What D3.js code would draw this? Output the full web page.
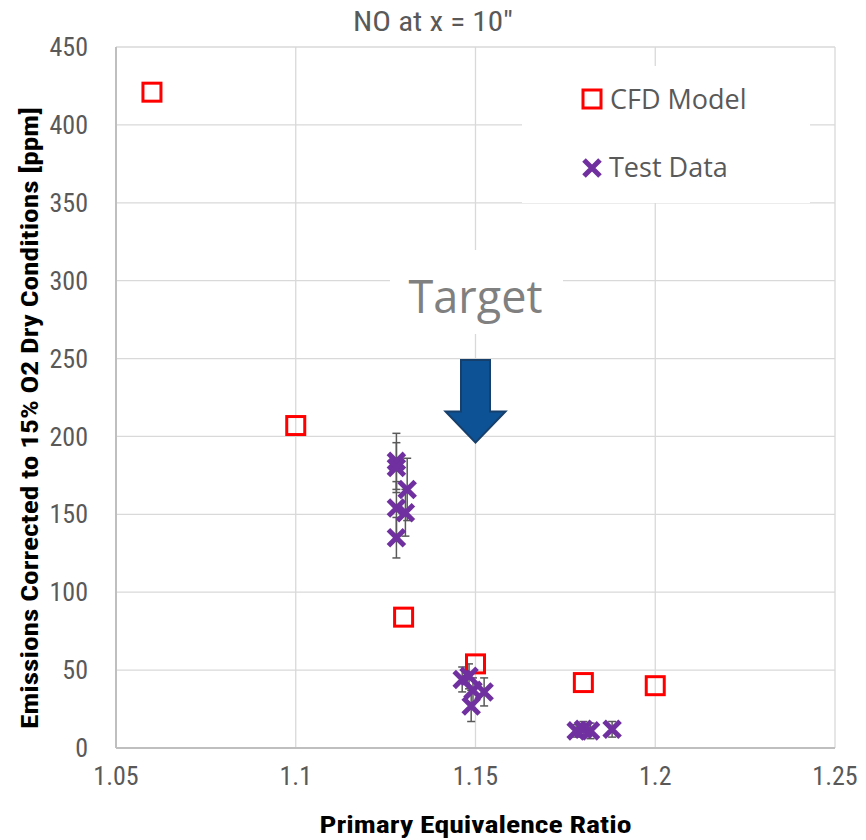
<!DOCTYPE html>
<html>
<head>
<meta charset="utf-8">
<script src="https://cdn.jsdelivr.net/npm/d3@7"></script>
<style>
  body { margin: 0; background: #fff; }
  .narrow { font-family: "Liberation Sans Narrow", "Roboto Condensed", "DejaVu Sans Condensed", sans-serif; font-stretch: condensed; }
</style>
</head>
<body>
<div id="chart"></div>
<script>
// chart data
const cfdPhi = [1.06, 1.10, 1.13, 1.15, 1.18, 1.20];
const cfdNO  = [421, 207, 84, 54, 42, 40];

const testPhi = [1.128, 1.128, 1.131, 1.128, 1.1305, 1.128,
                 1.1463, 1.1482, 1.1493, 1.1524, 1.1488,
                 1.178, 1.180, 1.182, 1.188];
const testNO  = [184, 180, 166, 154, 151, 135,
                 44, 46, 37, 36, 27,
                 11, 12, 11, 12];
const testErr = [18, 16, 20, 17, 15, 13,
                 8, 8, 8, 9, 10,
                 4, 5, 5, 5];

const xTicks = [1.05, 1.1, 1.15, 1.2, 1.25];
const xTickLabels = ["1.05", "1.1", "1.15", "1.2", "1.25"];
const yTicks = [0, 50, 100, 150, 200, 250, 300, 350, 400, 450];

// target annotation
const targetPhi = 1.15;
const arrowTop = 249, arrowHeadBase = 216, arrowTip = 196;

const width = 866, height = 840;
const margin = {top: 47, right: 31, bottom: 92, left: 116};

const svg = d3.select("#chart").append("svg")
  .attr("width", width)
  .attr("height", height);

const x = d3.scaleLinear().domain([1.05, 1.25]).range([margin.left, width - margin.right]);
const y = d3.scaleLinear().domain([0, 450]).range([height - margin.bottom, margin.top]);

// gridlines
svg.append("g")
  .selectAll("line.hg").data(yTicks.slice(1)).enter()
  .append("line")
  .attr("x1", x(1.05)).attr("x2", x(1.25))
  .attr("y1", d => y(d)).attr("y2", d => y(d))
  .attr("stroke", "#d9d9d9").attr("stroke-width", 1.3);

svg.append("g")
  .selectAll("line.vg").data(xTicks.slice(1)).enter()
  .append("line")
  .attr("x1", d => x(d)).attr("x2", d => x(d))
  .attr("y1", y(0)).attr("y2", y(450))
  .attr("stroke", "#d9d9d9").attr("stroke-width", 1.3);

// axis lines
svg.append("line")
  .attr("x1", x(1.05)).attr("x2", x(1.05))
  .attr("y1", y(0)).attr("y2", y(450))
  .attr("stroke", "#bfbfbf").attr("stroke-width", 2);
svg.append("line")
  .attr("x1", x(1.05)).attr("x2", x(1.25))
  .attr("y1", y(0)).attr("y2", y(0))
  .attr("stroke", "#bfbfbf").attr("stroke-width", 2);

// tick labels
svg.append("g").attr("class", "narrow")
  .selectAll("text").data(yTicks).enter()
  .append("text")
  .attr("x", x(1.05) - 28)
  .attr("y", d => y(d))
  .attr("dy", "0.35em")
  .attr("text-anchor", "end")
  .attr("font-size", 26)
  .attr("fill", "#595959")
  .text(d => d);

svg.append("g").attr("class", "narrow")
  .selectAll("text").data(xTicks).enter()
  .append("text")
  .attr("x", d => x(d))
  .attr("y", y(0) + 37)
  .attr("text-anchor", "middle")
  .attr("font-size", 26)
  .attr("fill", "#595959")
  .text((d, i) => xTickLabels[i]);

// title and axis titles
svg.append("text").attr("class", "narrow")
  .attr("x", width / 2).attr("y", 31)
  .attr("text-anchor", "middle")
  .attr("font-size", 28)
  .attr("fill", "#595959")
  .attr("textLength", 160)
  .attr("lengthAdjust", "spacingAndGlyphs")
  .text("NO at x = 10\"");

svg.append("text").attr("class", "narrow")
  .attr("x", x(1.15)).attr("y", 833)
  .attr("text-anchor", "middle")
  .attr("font-size", 24)
  .attr("font-weight", "bold")
  .attr("fill", "#000")
  .attr("textLength", 312)
  .attr("lengthAdjust", "spacingAndGlyphs")
  .text("Primary Equivalence Ratio");

svg.append("text").attr("class", "narrow")
  .attr("transform", "translate(38," + 418 + ") rotate(-90)")
  .attr("text-anchor", "middle")
  .attr("font-size", 24)
  .attr("font-weight", "bold")
  .attr("fill", "#000")
  .attr("textLength", 622)
  .attr("lengthAdjust", "spacingAndGlyphs")
  .text("Emissions Corrected to 15% O2 Dry Conditions [ppm]");

// legend box (covers gridlines)
svg.append("rect")
  .attr("x", 522).attr("y", 66)
  .attr("width", 288).attr("height", 137)
  .attr("fill", "#fff");

// target label box
svg.append("rect")
  .attr("x", 390).attr("y", 250)
  .attr("width", 173).attr("height", 84)
  .attr("fill", "#fff");

svg.append("text")
  .attr("x", x(targetPhi)).attr("y", 313)
  .attr("text-anchor", "middle")
  .attr("font-family", "'Open Sans', 'Noto Sans', sans-serif")
  .attr("font-size", 45)
  .attr("fill", "#808080")
  .text("Target");

// arrow
const ax = x(targetPhi);
const arrowPts = [
  [ax - 14.5, y(arrowTop)], [ax + 14.5, y(arrowTop)],
  [ax + 14.5, y(arrowHeadBase)], [ax + 30, y(arrowHeadBase)],
  [ax, y(arrowTip)],
  [ax - 30, y(arrowHeadBase)], [ax - 14.5, y(arrowHeadBase)]
];
svg.append("polygon")
  .attr("points", arrowPts.map(p => p.join(",")).join(" "))
  .attr("fill", "#0d5295")
  .attr("stroke", "#173f6c")
  .attr("stroke-width", 2)
  .attr("stroke-linejoin", "miter");

// error bars for test data
const testData = testPhi.map((p, i) => ({phi: p, no: testNO[i], err: testErr[i]}));
const eb = svg.append("g").attr("stroke", "#595959").attr("stroke-width", 1.5);
testData.forEach(d => {
  const cx = x(d.phi);
  eb.append("line").attr("x1", cx).attr("x2", cx)
    .attr("y1", y(d.no + d.err)).attr("y2", y(d.no - d.err));
  eb.append("line").attr("x1", cx - 4).attr("x2", cx + 4)
    .attr("y1", y(d.no + d.err)).attr("y2", y(d.no + d.err));
  eb.append("line").attr("x1", cx - 4).attr("x2", cx + 4)
    .attr("y1", y(d.no - d.err)).attr("y2", y(d.no - d.err));
});

// CFD model squares
const cfdData = cfdPhi.map((p, i) => ({phi: p, no: cfdNO[i]}));
svg.append("g").selectAll("rect").data(cfdData).enter()
  .append("rect")
  .attr("x", d => x(d.phi) - 9)
  .attr("y", d => y(d.no) - 9)
  .attr("width", 18).attr("height", 18)
  .attr("fill", "none")
  .attr("stroke", "#ff0000")
  .attr("stroke-width", 3);

// test data crosses
function crossPath(cx, cy, r) {
  return "M" + (cx - r) + "," + (cy - r) + "L" + (cx + r) + "," + (cy + r) +
         "M" + (cx - r) + "," + (cy + r) + "L" + (cx + r) + "," + (cy - r);
}
svg.append("g").selectAll("path").data(testData).enter()
  .append("path")
  .attr("d", d => crossPath(x(d.phi), y(d.no), 8))
  .attr("stroke", "#7030a0")
  .attr("stroke-width", 5)
  .attr("fill", "none");

// legend
svg.append("rect")
  .attr("x", 583).attr("y", 90)
  .attr("width", 18).attr("height", 18)
  .attr("fill", "none").attr("stroke", "#ff0000").attr("stroke-width", 3);
svg.append("path")
  .attr("d", crossPath(592, 168, 8))
  .attr("stroke", "#7030a0").attr("stroke-width", 5).attr("fill", "none");

const legText = svg.append("g")
  .attr("font-family", "'Open Sans', 'Noto Sans', sans-serif")
  .attr("font-size", 27)
  .attr("fill", "#595959");
legText.append("text").attr("x", 610).attr("y", 109).text("CFD Model");
legText.append("text").attr("x", 609).attr("y", 177).text("Test Data");
</script>
</body>
</html>
